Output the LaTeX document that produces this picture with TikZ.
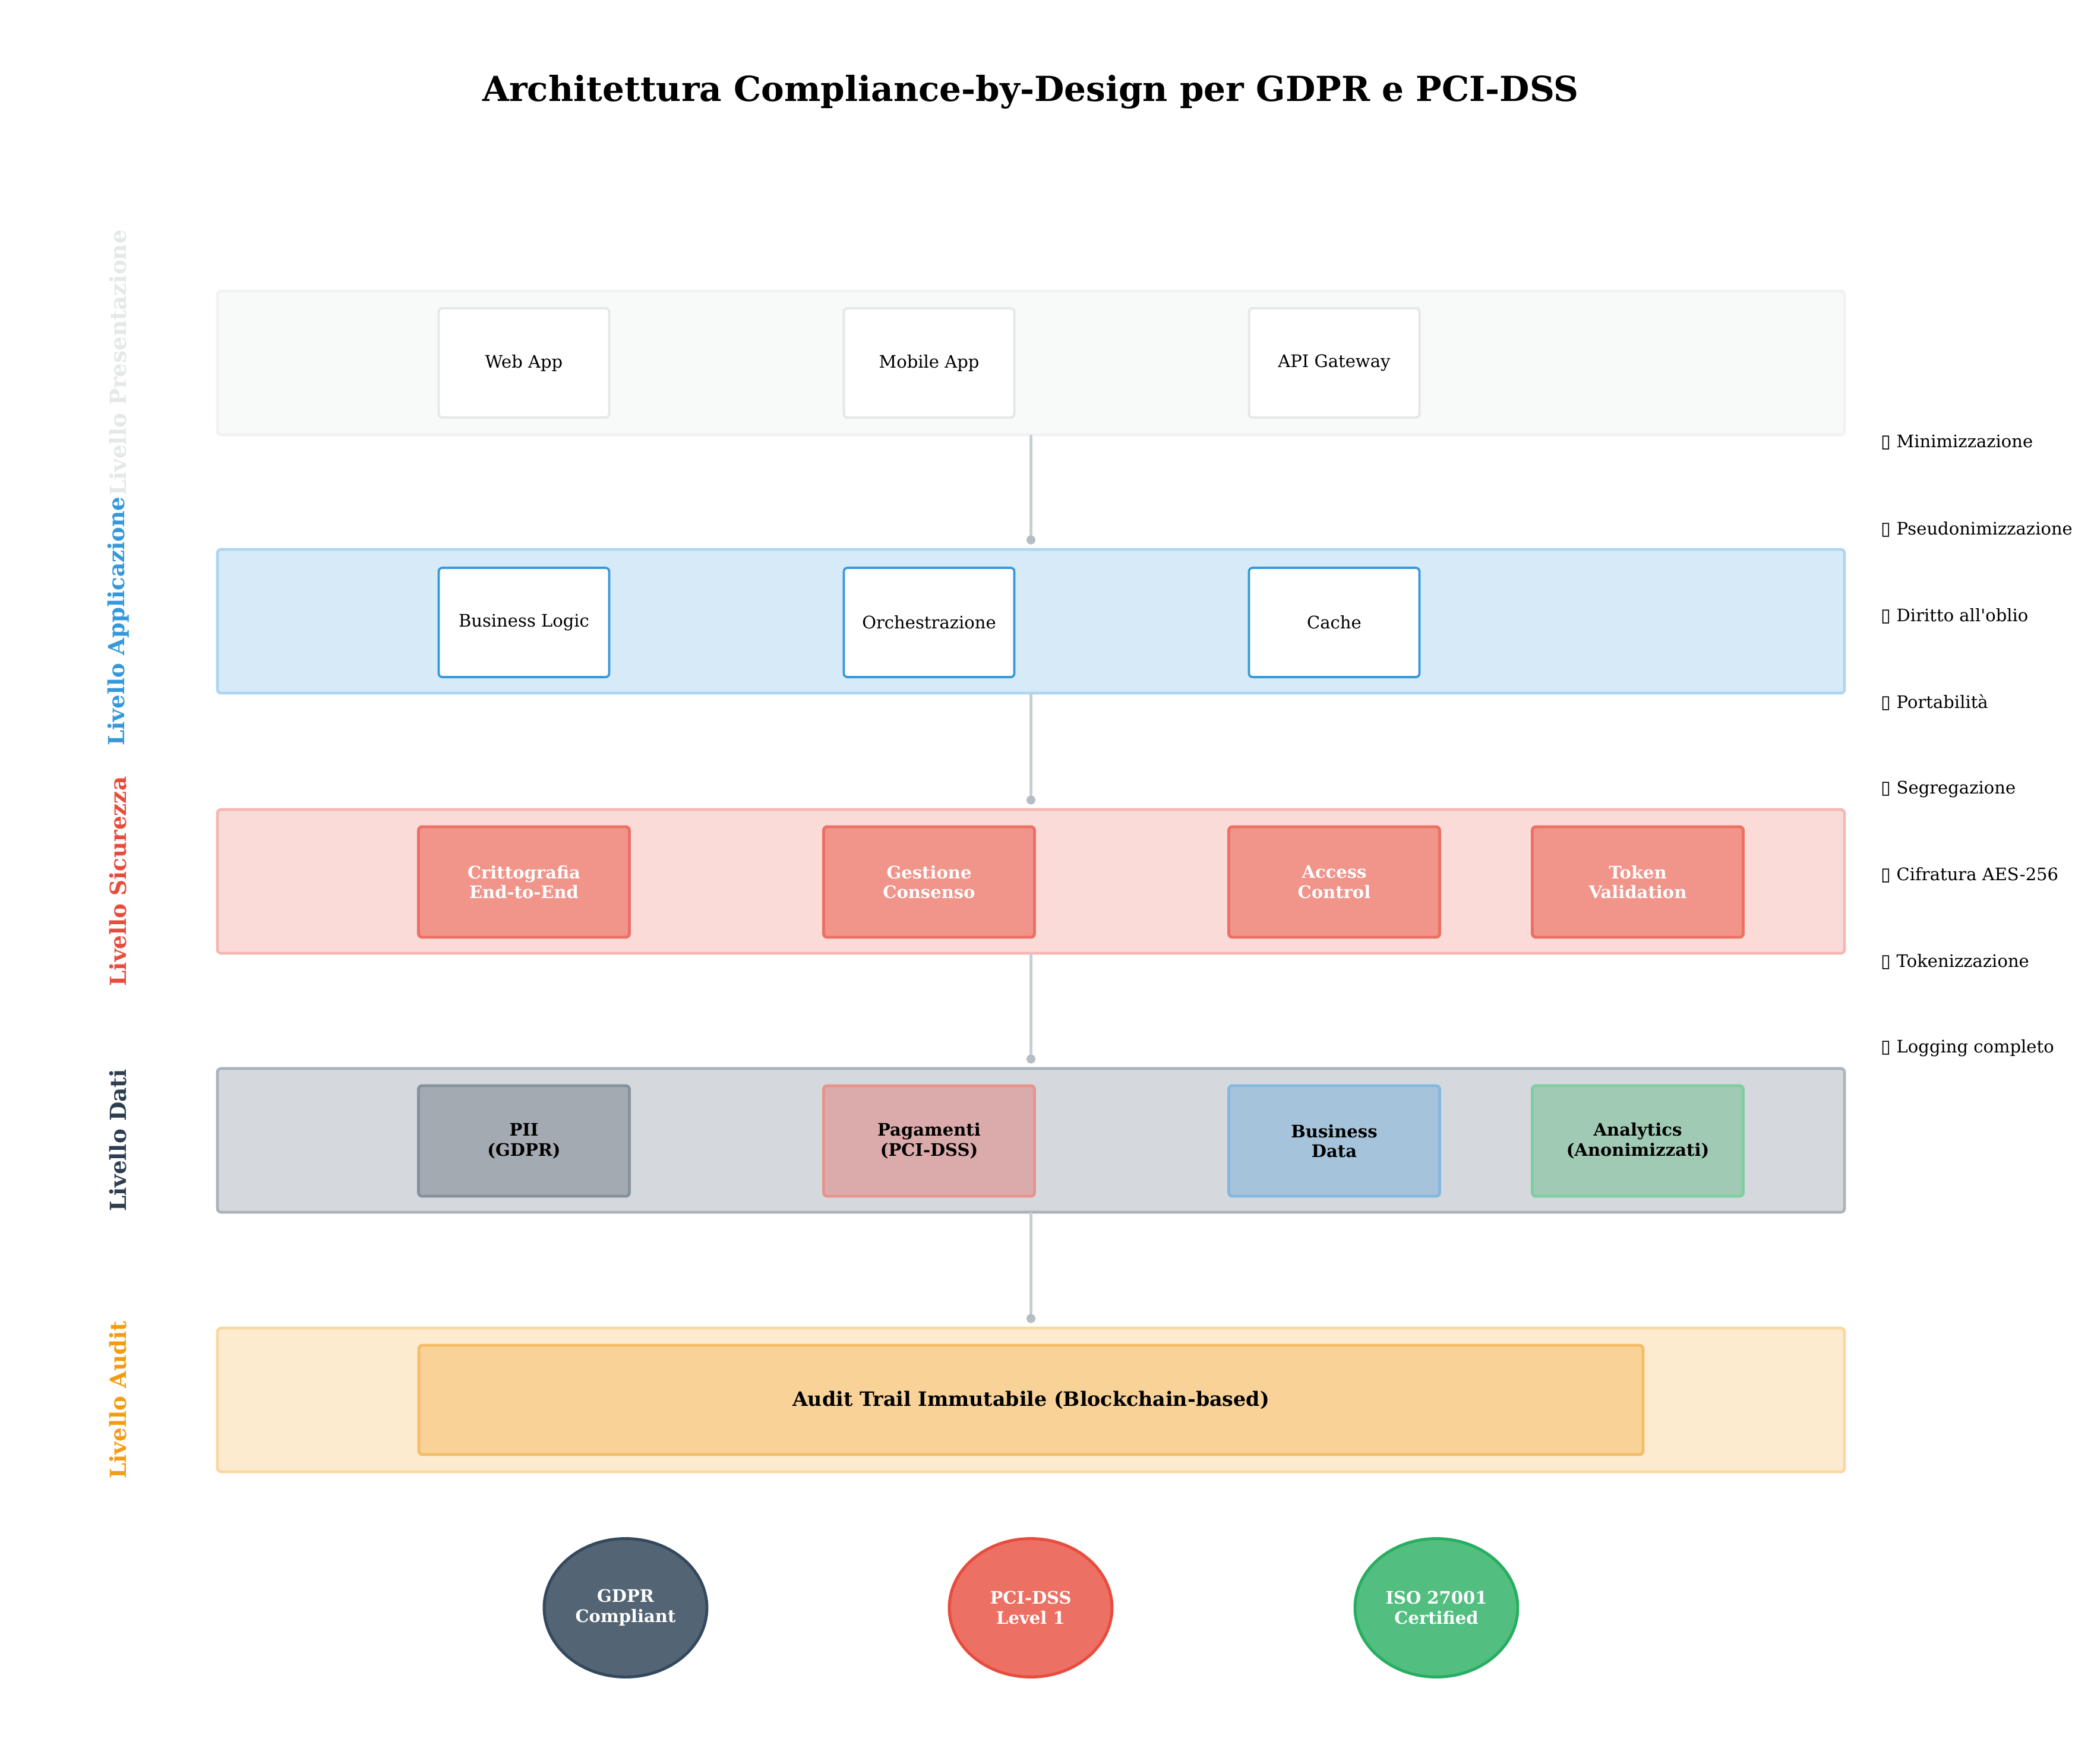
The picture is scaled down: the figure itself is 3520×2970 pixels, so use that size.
\documentclass[tikz,border=0pt]{standalone}
\usepackage{fontspec}
\setmainfont{DejaVu Serif}
\newfontfamily\symfont{DejaVu Sans}
\usetikzlibrary{arrows.meta,shapes.geometric}
\def\pxu{0.32727pt}
\definecolor{presfill}{HTML}{F8F9F9}
\definecolor{presline}{HTML}{F0F2F3}
\definecolor{presbox}{HTML}{E5E8E8}
\definecolor{presl}{HTML}{E5E8E8}
\definecolor{appfill}{HTML}{D6EAF8}
\definecolor{appline}{HTML}{AED6F1}
\definecolor{appblue}{HTML}{3498DB}
\definecolor{secfill}{HTML}{FADBD8}
\definecolor{secline}{HTML}{F5B7B1}
\definecolor{secbox}{HTML}{F1948A}
\definecolor{secboxl}{HTML}{EC7063}
\definecolor{secred}{HTML}{E74C3C}
\definecolor{datfill}{HTML}{D5D8DC}
\definecolor{datline}{HTML}{ABB2B9}
\definecolor{datdark}{HTML}{2C3E50}
\definecolor{piifill}{HTML}{A3AAB1}
\definecolor{piiline}{HTML}{85929E}
\definecolor{pagfill}{HTML}{DBABAB}
\definecolor{pagline}{HTML}{E6948D}
\definecolor{busfill}{HTML}{A5C4DB}
\definecolor{busline}{HTML}{85B8DE}
\definecolor{anafill}{HTML}{A0CAB4}
\definecolor{analine}{HTML}{7DCEA0}
\definecolor{audfill}{HTML}{FDEBD0}
\definecolor{audline}{HTML}{FAD7A0}
\definecolor{audbox}{HTML}{F8D296}
\definecolor{audboxl}{HTML}{F5BE66}
\definecolor{audorange}{HTML}{F39C12}
\definecolor{gdprfill}{HTML}{536474}
\definecolor{gdprline}{HTML}{34495E}
\definecolor{pcifill}{HTML}{EC7063}
\definecolor{isofill}{HTML}{52BE80}
\definecolor{isoline}{HTML}{27AE60}
\definecolor{conn}{HTML}{C8CFD2}
\definecolor{conndot}{HTML}{B5BFC3}
\newcommand\tofu{{\symfont\fontsize{10}{12}\selectfont▯}}
\begin{document}
\begin{tikzpicture}[x=\pxu,y=-\pxu,
  layer/.style={draw=#1, line width=1.5pt, rounded corners=2pt, minimum width=2739*\pxu, minimum height=242*\pxu, inner sep=0pt},
  smallbox/.style={rounded corners=2pt, minimum width=287*\pxu, minimum height=184*\pxu, inner sep=0pt, font=\fontsize{9.5}{11}\selectfont, align=center},
  widebox/.style={rounded corners=2pt, minimum width=355*\pxu, minimum height=186*\pxu, inner sep=0pt, line width=1.6pt, font=\fontsize{9.5}{11}\selectfont\bfseries, align=center},
  laylabel/.style={rotate=90, font=\fontsize{12.2}{14}\selectfont\bfseries},
  cert/.style={ellipse, minimum width=274*\pxu, minimum height=233*\pxu, inner sep=0pt, line width=1.6pt, text=white, font=\fontsize{9.5}{11}\selectfont\bfseries, align=center},
  listitem/.style={anchor=west, inner sep=0pt, font=\fontsize{9.5}{11}\selectfont},
  connector/.style={draw=conn, line width=1.6pt, line cap=round, -{Circle[length=5pt,color=conndot]}, shorten >=2pt}
]
\useasboundingbox (0,0) rectangle (3520,2970);
\fill[white] (0,0) rectangle (3520,2970);

% title
\node[font=\fontsize{19}{22}\selectfont\bfseries] (title) at (1735,155) {Architettura Compliance-by-Design per GDPR e PCI-DSS};

% layers
\node[layer=presline, fill=presfill] (L1) at (1735.5,611) {};
\node[layer=appline, fill=appfill] (L2) at (1735.5,1046) {};
\node[layer=secline, fill=secfill] (L3) at (1735.5,1484) {};
\node[layer=datline, fill=datfill] (L4) at (1735.5,1920) {};
\node[layer=audline, fill=audfill] (L5) at (1735.5,2357) {};

% layer labels
\node[laylabel, text=presl] (T1) at (199,611) {Livello Presentazione};
\node[laylabel, text=appblue] (T2) at (199,1046) {Livello Applicazione};
\node[laylabel, text=secred] (T3) at (199,1484) {Livello Sicurezza};
\node[laylabel, text=datdark] (T4) at (199,1920) {Livello Dati};
\node[laylabel, text=audorange] (T5) at (199,2357) {Livello Audit};

% presentation boxes
\node[smallbox, draw=presbox, fill=white, line width=1.3pt] (web) at (882,611) {Web App};
\node[smallbox, draw=presbox, fill=white, line width=1.3pt] (mob) at (1564,611) {Mobile App};
\node[smallbox, draw=presbox, fill=white, line width=1.3pt] (api) at (2246,611) {API Gateway};

% application boxes
\node[smallbox, draw=appblue, fill=white, line width=1.2pt] (biz) at (882,1048) {Business Logic};
\node[smallbox, draw=appblue, fill=white, line width=1.2pt] (orc) at (1564,1048) {Orchestrazione};
\node[smallbox, draw=appblue, fill=white, line width=1.2pt] (cache) at (2246,1048) {Cache};

% security boxes
\node[widebox, draw=secboxl, fill=secbox, text=white] (cri) at (882,1485) {Crittografia\\End-to-End};
\node[widebox, draw=secboxl, fill=secbox, text=white] (ges) at (1564,1485) {Gestione\\Consenso};
\node[widebox, draw=secboxl, fill=secbox, text=white] (acc) at (2246,1485) {Access\\Control};
\node[widebox, draw=secboxl, fill=secbox, text=white] (tok) at (2757,1485) {Token\\Validation};

% data boxes
\node[widebox, draw=piiline, fill=piifill] (pii) at (882,1921) {PII\\(GDPR)};
\node[widebox, draw=pagline, fill=pagfill] (pag) at (1564,1921) {Pagamenti\\(PCI-DSS)};
\node[widebox, draw=busline, fill=busfill] (bdata) at (2246,1921) {Business\\Data};
\node[widebox, draw=analine, fill=anafill] (ana) at (2757,1921) {Analytics\\(Anonimizzati)};

% audit box
\node[draw=audboxl, fill=audbox, line width=1.6pt, rounded corners=2pt, minimum width=2061*\pxu, minimum height=184*\pxu, inner sep=0pt, font=\fontsize{10.9}{12}\selectfont\bfseries] (aud) at (1735.5,2357) {Audit Trail Immutabile (Blockchain-based)};

% connectors
\draw[connector] (L1.south) -- (L2.north);
\draw[connector] (L2.south) -- (L3.north);
\draw[connector] (L3.south) -- (L4.north);
\draw[connector] (L4.south) -- (L5.north);

% certifications
\node[cert, draw=gdprline, fill=gdprfill] (gdpr) at (1053,2707) {GDPR\\Compliant};
\node[cert, draw=secred, fill=pcifill] (pci) at (1735,2707) {PCI-DSS\\Level 1};
\node[cert, draw=isoline, fill=isofill] (iso) at (2418,2707) {ISO 27001\\Certified};

% compliance list
\node[listitem] (c1) at (3166,745) {\tofu\ Minimizzazione};
\node[listitem] (c2) at (3166,891) {\tofu\ Pseudonimizzazione};
\node[listitem] (c3) at (3166,1037) {\tofu\ Diritto all\textquotesingle oblio};
\node[listitem] (c4) at (3166,1183) {\tofu\ Portabilità};
\node[listitem] (c5) at (3166,1329) {\tofu\ Segregazione};
\node[listitem] (c6) at (3166,1473) {\tofu\ Cifratura AES-256};
\node[listitem] (c7) at (3166,1619) {\tofu\ Tokenizzazione};
\node[listitem] (c8) at (3166,1765) {\tofu\ Logging completo};
\end{tikzpicture}
\end{document}
